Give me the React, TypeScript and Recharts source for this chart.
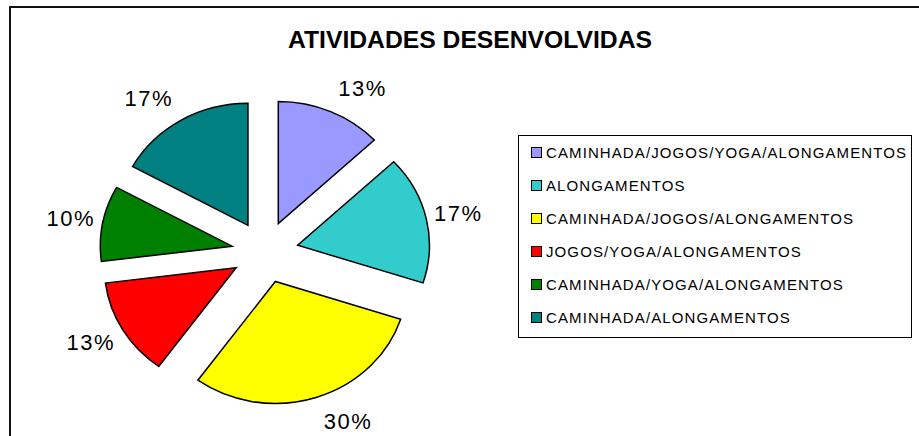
import React from 'react'
import { PieChart, Pie, Cell, Sector, Legend } from 'recharts'

const activities = [
  'CAMINHADA/JOGOS/YOGA/ALONGAMENTOS',
  'ALONGAMENTOS',
  'CAMINHADA/JOGOS/ALONGAMENTOS',
  'JOGOS/YOGA/ALONGAMENTOS',
  'CAMINHADA/YOGA/ALONGAMENTOS',
  'CAMINHADA/ALONGAMENTOS',
]
const shares = [13, 17, 30, 13, 10, 17]
const colors = ['#9999FF', '#33CCCC', '#FFFF00', '#FF0000', '#008000', '#008080']

const chartData = activities.map((name, i) => ({ name, value: shares[i], fill: colors[i] }))

const FONT = '"Liberation Sans", Arial, sans-serif'
const RADIAN = Math.PI / 180
const STRETCH = 1.08 // the pie in the original is a bit wider than tall
const EXPLODE = 31

function ExplodedSlice(props: any) {
  const { cx, cy, midAngle, innerRadius, outerRadius, startAngle, endAngle, fill } = props
  const ux = Math.cos(-midAngle * RADIAN)
  const uy = Math.sin(-midAngle * RADIAN)
  return (
    <g transform={`translate(${cx} ${cy}) scale(${STRETCH} 1) translate(${-cx} ${-cy})`}>
      <Sector
        cx={cx + EXPLODE * ux}
        cy={cy + EXPLODE * uy}
        innerRadius={innerRadius}
        outerRadius={outerRadius}
        startAngle={startAngle}
        endAngle={endAngle}
        fill={fill}
        stroke="#000"
        strokeWidth={1.5}
        vectorEffect="non-scaling-stroke"
      />
    </g>
  )
}

function SliceLabel(props: any) {
  const { cx, cy, midAngle, outerRadius, percent } = props
  const ux = Math.cos(-midAngle * RADIAN)
  const uy = Math.sin(-midAngle * RADIAN)
  const r = outerRadius + EXPLODE
  const x = cx + STRETCH * r * ux + Math.sign(ux) * 32
  const y = cy + r * uy + 25 * uy
  return (
    <text
      x={x}
      y={y}
      textAnchor="middle"
      dominantBaseline="central"
      fontFamily={FONT}
      fontSize={22}
      letterSpacing={1.5}
      fill="#000"
    >
      {`${Math.round(percent * 100)}%`}
    </text>
  )
}

function LegendBox() {
  return (
    <div
      style={{
        border: '1px solid #000',
        background: '#fff',
        padding: '0 0 3px 0',
        fontFamily: FONT,
        fontSize: 15,
        letterSpacing: 1.1,
        color: '#000',
      }}
    >
      {activities.map((name, i) => (
        <div key={name} style={{ height: 33, display: 'flex', alignItems: 'center' }}>
          <span
            style={{
              width: 9,
              height: 9,
              marginLeft: 12,
              marginRight: 4,
              border: '1px solid #000',
              background: colors[i],
              display: 'inline-block',
            }}
          />
          <span style={{ whiteSpace: 'nowrap' }}>{name}</span>
        </div>
      ))}
    </div>
  )
}

export default function App() {
  return (
    <div style={{ position: 'relative', width: 919, height: 436, overflow: 'hidden', background: '#fff' }}>
      <style>{'body{margin:0}'}</style>
      <div
        style={{
          position: 'absolute',
          left: 9,
          top: 6,
          width: 950,
          height: 470,
          border: '2px solid #111',
          boxSizing: 'border-box',
        }}
      />
      <div style={{ position: 'absolute', left: 0, top: 0 }}>
        <PieChart width={919} height={436}>
          <text
            x={470}
            y={48}
            textAnchor="middle"
            fontFamily={FONT}
            fontWeight="bold"
            fontSize={24.7}
            fill="#000"
          >
            ATIVIDADES DESENVOLVIDAS
          </text>
          <Pie
            data={chartData}
            dataKey="value"
            nameKey="name"
            cx={260}
            cy={247}
            outerRadius={122}
            startAngle={90}
            endAngle={-270}
            shape={ExplodedSlice}
            activeShape={ExplodedSlice}
            label={SliceLabel}
            labelLine={false}
            isAnimationActive={false}
          >
            {chartData.map((d) => (
              <Cell key={d.name} fill={d.fill} />
            ))}
          </Pie>
          <Legend
            content={LegendBox}
            wrapperStyle={{ left: 518, top: 135, width: 394, bottom: 'auto', right: 'auto' }}
          />
        </PieChart>
      </div>
    </div>
  )
}
